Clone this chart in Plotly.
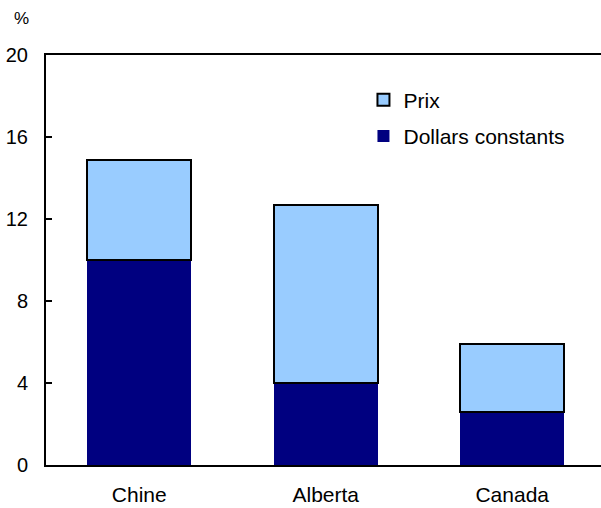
import plotly.graph_objects as go

categories = ["Chine", "Alberta", "Canada"]
dollars_constants = [10.0, 4.0, 2.6]
prix = [4.9, 8.7, 3.3]
y_ticks = [0, 4, 8, 12, 16, 20]

FONT = "Liberation Sans, Arial, Helvetica, sans-serif"
FS = 21

fig = go.Figure()
fig.add_trace(go.Bar(
    x=categories, y=dollars_constants, name="Dollars constants",
    marker=dict(color="#000080", line=dict(color="#000080", width=0)),
    width=0.56, legendgroup="a", legendrank=2,
))
fig.add_trace(go.Bar(
    x=categories, y=prix, name="Prix",
    marker=dict(color="#99CCFF", line=dict(color="#000000", width=2)),
    width=0.56, legendgroup="b", legendrank=1,
))

fig.update_layout(
    barmode="stack",
    width=601, height=508,
    margin=dict(l=46, r=0, t=55, b=43),
    paper_bgcolor="white", plot_bgcolor="white",
    font=dict(family=FONT, size=FS, color="black"),
    showlegend=True,
    legend=dict(
        x=0.572, y=0.94, xanchor="left", yanchor="top",
        traceorder="grouped", tracegroupgap=6,
        font=dict(family=FONT, size=FS, color="black"),
        bgcolor="rgba(0,0,0,0)", itemwidth=30,
    ),
    xaxis=dict(
        range=[-0.5, 2.476], showline=True, linecolor="black", linewidth=2,
        mirror=True, ticks="", showgrid=False, zeroline=False, automargin=False,
        ticklabelstandoff=10, tickfont=dict(family=FONT, size=FS),
    ),
    yaxis=dict(
        range=[0, 20], tickvals=y_ticks, showline=True, linecolor="black",
        linewidth=2, ticks="inside", ticklen=6, tickwidth=2, tickcolor="black",
        showgrid=False, zeroline=False, ticklabelstandoff=12, automargin=False,
        tickfont=dict(family=FONT, size=20),
    ),
    annotations=[dict(
        text="%", xref="paper", yref="paper", x=-0.062, y=1.09,
        xanchor="left", yanchor="middle", showarrow=False,
        font=dict(family=FONT, size=17),
    )],
)

fig.write_html("out.html")
